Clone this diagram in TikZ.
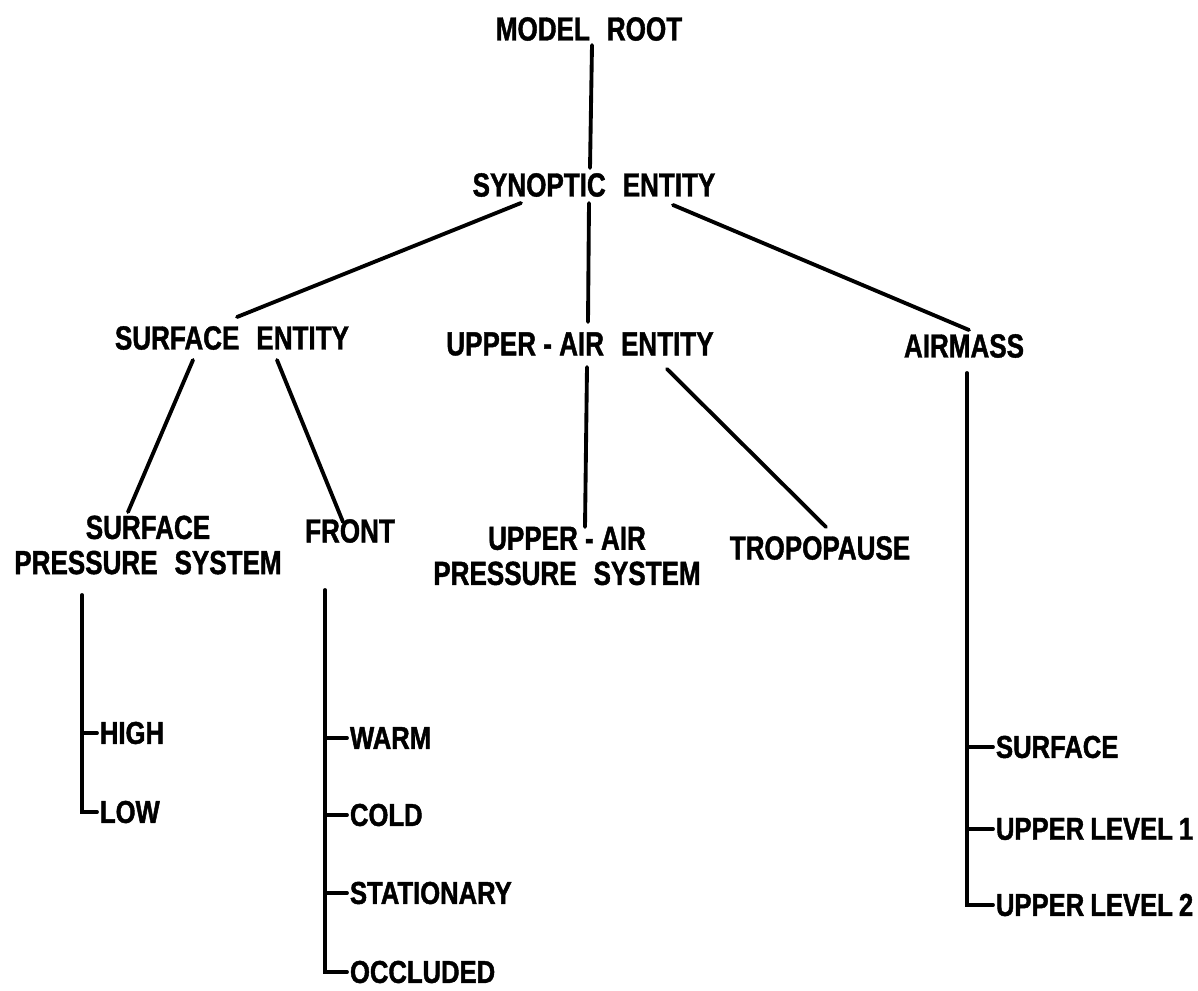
\documentclass[tikz,border=0pt]{standalone}
\usepackage{fontspec}
\setmainfont{Liberation Sans}
\newfontfamily\entfont{Liberation Sans}[FakeStretch=0.78,FakeBold=1.2]
\newfontfamily\leaffont{Liberation Sans}[FakeStretch=0.81,WordSpace=0.85,FakeBold=1.4]
\usepackage{tikz}
\usetikzlibrary{calc,positioning}
\newcommand\gap{\hspace{0.34cm}}
\tikzset{
    % Define style for the entity labels
    ent/.style={
           inner sep=0pt,
           align=center,
           font=\entfont\bfseries\fontsize{19}{20}\selectfont,
           },
    % Define style for the leaf labels
    leaf/.style={
           inner sep=1.5pt,
           anchor=west,
           font=\leaffont\bfseries\fontsize{18}{20}\selectfont,
           },
    % Define line style
    twig/.style={
           line width=2.2pt,
           line cap=round,
           },
}

\begin{document}
\begin{tikzpicture}
  	\useasboundingbox (0,0) rectangle (23.96,-19.8);
  	\node (root) at (11.78,-0.58) [ent] {MODEL\gap ROOT};
  	\node (syn) at (11.88,-3.70) [ent] {SYNOPTIC\gap ENTITY};
  	\node (sfc) at (4.64,-6.76) [ent] {SURFACE\gap ENTITY};
  	\node (ua) at (11.60,-6.88) [ent] {UPPER - AIR\gap ENTITY};
  	\node (am) at (19.28,-6.92) [ent] {AIRMASS};
  	\node (sps) at (2.96,-10.90) [ent] {SURFACE\\PRESSURE\gap SYSTEM};
  	\node (fr) at (7.0,-10.62) [ent] {FRONT};
  	\node (uaps) at (11.34,-11.12) [ent] {UPPER - AIR\\PRESSURE\gap SYSTEM};
  	\node (tp) at (16.40,-10.96) [ent] {TROPOPAUSE};
  	\node (hi) at (1.94,-14.66) [leaf] {HIGH};
  	\node (lo) at (1.94,-16.24) [leaf] {LOW};
  	\node (wa) at (6.94,-14.76) [leaf] {WARM};
  	\node (co) at (6.94,-16.30) [leaf] {COLD};
  	\node (st) at (6.94,-17.86) [leaf] {STATIONARY};
  	\node (oc) at (6.94,-19.44) [leaf] {OCCLUDED};
  	\node (s1) at (19.86,-14.94) [leaf] {SURFACE};
  	\node (s2) at (19.86,-16.58) [leaf] {UPPER LEVEL 1};
  	\node (s3) at (19.86,-18.10) [leaf] {UPPER LEVEL 2};
%  	tree branches
  	\draw [twig] ($(root)+(0.06,-0.32)$) -- ($(syn)+(-0.08,0.34)$);
  	\draw [twig] ($(syn)+(-1.46,-0.36)$) -- ($(sfc)+(0.10,0.42)$);
  	\draw [twig] ($(syn)+(-0.10,-0.36)$) -- ($(ua)+(0.16,0.44)$);
  	\draw [twig] ($(syn)+(1.58,-0.40)$) -- ($(am)+(0.10,0.32)$);
  	\draw [twig] ($(sfc)+(-0.78,-0.44)$) -- ($(sps)+(-0.40,0.66)$);
  	\draw [twig] ($(sfc)+(0.90,-0.44)$) -- ($(fr)+(-0.14,0.18)$);
  	\draw [twig] ($(ua)+(0.14,-0.46)$) -- ($(uaps)+(0.36,0.58)$);
  	\draw [twig] ($(ua)+(1.74,-0.50)$) -- ($(tp)+(0.12,0.42)$);
%  	trunks down to the leaves
  	\coordinate (spst) at ($(sps)+(-1.32,-1.00)$);
  	\coordinate (frt) at ($(fr)+(-0.50,-1.18)$);
  	\coordinate (amt) at ($(am)+(0.06,-0.54)$);
  	\draw [twig] (spst) |- (lo.west);
  	\draw [twig] (spst |- hi.west) -- (hi.west);
  	\draw [twig] (frt) |- (oc.west);
  	\foreach \n in {wa,co,st}
  		\draw [twig] (frt |- \n.west) -- (\n.west);
  	\draw [twig] (amt) |- (s3.west);
  	\foreach \n in {s1,s2}
  		\draw [twig] (amt |- \n.west) -- (\n.west);
\end{tikzpicture}
\end{document}
